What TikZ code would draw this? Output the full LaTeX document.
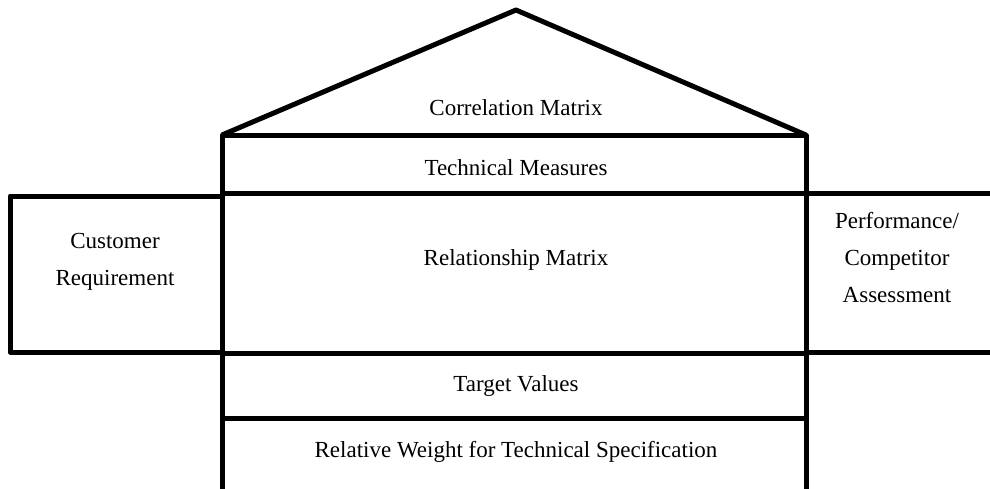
\documentclass[tikz,border=0pt]{standalone}
\usepackage{fontspec}
\setmainfont{Liberation Serif}
\usepackage{tikz}

\begin{document}
\begin{tikzpicture}[x=0.5pt,y=-0.5pt,
  wall/.style={line width=2.5pt,black,line join=round},
  lbl/.style={align=center,font=\fontsize{11.5}{18.5}\selectfont,inner sep=0pt}]
\useasboundingbox (0,0) rectangle (990,488);

% roof and main column
\coordinate (apex) at (516,10);
\coordinate (eaveL) at (222,135);
\coordinate (eaveR) at (806,135);
\draw[wall] (eaveL) -- (apex) -- (eaveR);
\draw[wall] (222,492) -- (eaveL) -- (eaveR) -- (806,492);

% floors
\draw[wall] (222,193) -- (806,193);
\draw[wall] (222,353) -- (806,353);
\draw[wall] (222,418) -- (806,418);

% side rooms
\draw[wall] (222,196) -- (10,196) -- (10,352) -- (222,352);
\draw[wall] (806,193) -- (994,193);
\draw[wall] (806,352) -- (994,352);

\begin{scope}[every node/.style={lbl}]
\node (corr) at (516,108) {Correlation Matrix};
\node (tech) at (516,168) {Technical Measures};
\node (rel) at (516,260) {Relationship Matrix};
\node (cust) at (115,262) {Customer\\Requirement};
\node (perf) at (897,258) {Performance/\\Competitor\\Assessment};
\node (target) at (516,386) {Target Values};
\node (weight) at (516,452) {Relative Weight for Technical Specification};
\end{scope}

\end{tikzpicture}
\end{document}
